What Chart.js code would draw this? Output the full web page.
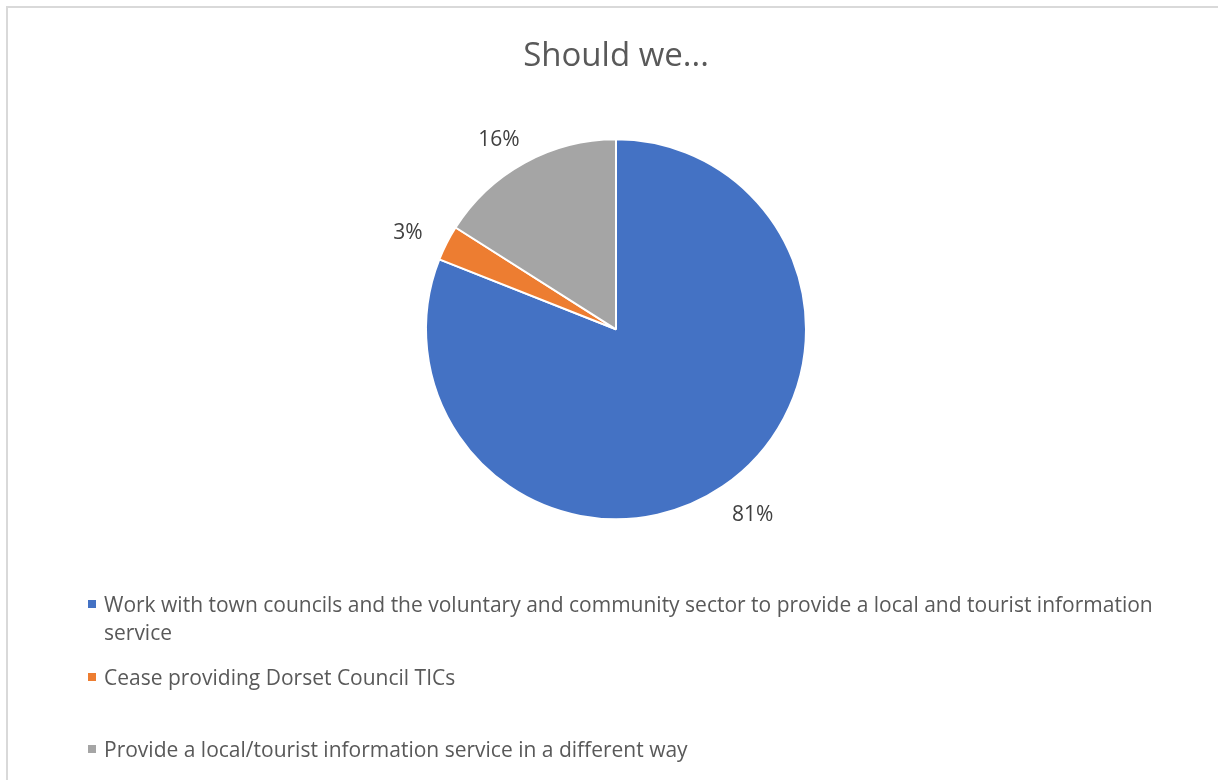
<!DOCTYPE html>
<html>
<head>
<meta charset="utf-8">
<script src="https://cdn.jsdelivr.net/npm/chart.js@4.4.1/dist/chart.umd.min.js"></script>
<style>
    body { margin: 0; background: #fff; }
    #wrap { position: relative; width: 1218px; height: 780px; overflow: hidden; }
    #frame {
        position: absolute; left: 6px; top: 6px; width: 1230px; height: 800px;
        border-top: 2px solid #d9d9d9; border-left: 2px solid #d9d9d9;
    }
    #pieChart { position: absolute; left: 0; top: 0; }
    #legend {
        position: absolute; left: 86px; top: 590px; width: 1090px;
        font-family: "Open Sans", sans-serif; font-size: 21px; color: #595959;
    }
    .item { position: relative; padding-left: 18px; line-height: 28px; }
    .box { position: absolute; left: 2px; top: 10px; width: 8px; height: 8px; }
</style>
</head>
<body>
<div id="wrap">
    <div id="frame"></div>
    <canvas id="pieChart" width="1218" height="780"></canvas>
    <div id="legend"></div>
</div>
<script>
// answers and share of responses (%)
var answers = [
    "Work with town councils and the voluntary and community sector to provide a local and tourist information service",
    "Cease providing Dorset Council TICs",
    "Provide a local/tourist information service in a different way"
];
var percents = [81, 3, 16];
var colors = ["#4472C4", "#ED7D31", "#A5A5A5"];
var legendGaps = [0, 17, 44]; // extra space above each legend row

// percent labels just outside each slice, box pushed away from the edge
var outsideLabels = {
    id: 'outsideLabels',
    afterDatasetsDraw: function (chart) {
        var ctx = chart.ctx;
        var arcs = chart.getDatasetMeta(0).data;
        ctx.save();
        ctx.font = '21px "Open Sans", sans-serif';
        ctx.fillStyle = '#404040';
        ctx.textAlign = 'center';
        ctx.textBaseline = 'middle';
        for (var i = 0; i < arcs.length; i++) {
            var p = arcs[i].getProps(['x', 'y', 'startAngle', 'endAngle', 'outerRadius'], true);
            var mid = (p.startAngle + p.endAngle) / 2;
            var txt = percents[i] + '%';
            var w = ctx.measureText(txt).width;
            var r = p.outerRadius + 20;
            var x = p.x + Math.cos(mid) * r + Math.cos(mid) * w * 0.8;
            var y = p.y + Math.sin(mid) * r + Math.sin(mid) * 10 + 4;
            ctx.fillText(txt, x, y);
        }
        ctx.restore();
    }
};

var ctx = document.getElementById('pieChart').getContext('2d');
var pieChart = new Chart(ctx, {
    type: 'pie',
    data: {
        labels: answers,
        datasets: [{
            data: percents,
            backgroundColor: colors,
            borderColor: '#ffffff',
            borderWidth: 2,
            radius: 190
        }]
    },
    options: {
        responsive: false,
        animation: false,
        layout: { padding: { left: 14, right: 0, top: 0, bottom: 220 } },
        plugins: {
            legend: { display: false },
            tooltip: { enabled: false },
            title: {
                display: true,
                text: 'Should we...',
                color: '#595959',
                font: { family: '"Open Sans", sans-serif', size: 33, weight: 'normal' },
                padding: { top: 37, bottom: 22 }
            }
        }
    },
    plugins: [outsideLabels]
});

// legend rows below the pie
var legend = document.getElementById('legend');
for (var i = 0; i < answers.length; i++) {
    var row = document.createElement('div');
    row.className = 'item';
    row.style.marginTop = legendGaps[i] + 'px';
    row.innerHTML = '<span class="box" style="background:' + colors[i] + '"></span>' + answers[i];
    legend.appendChild(row);
}
</script>
</body>
</html>
